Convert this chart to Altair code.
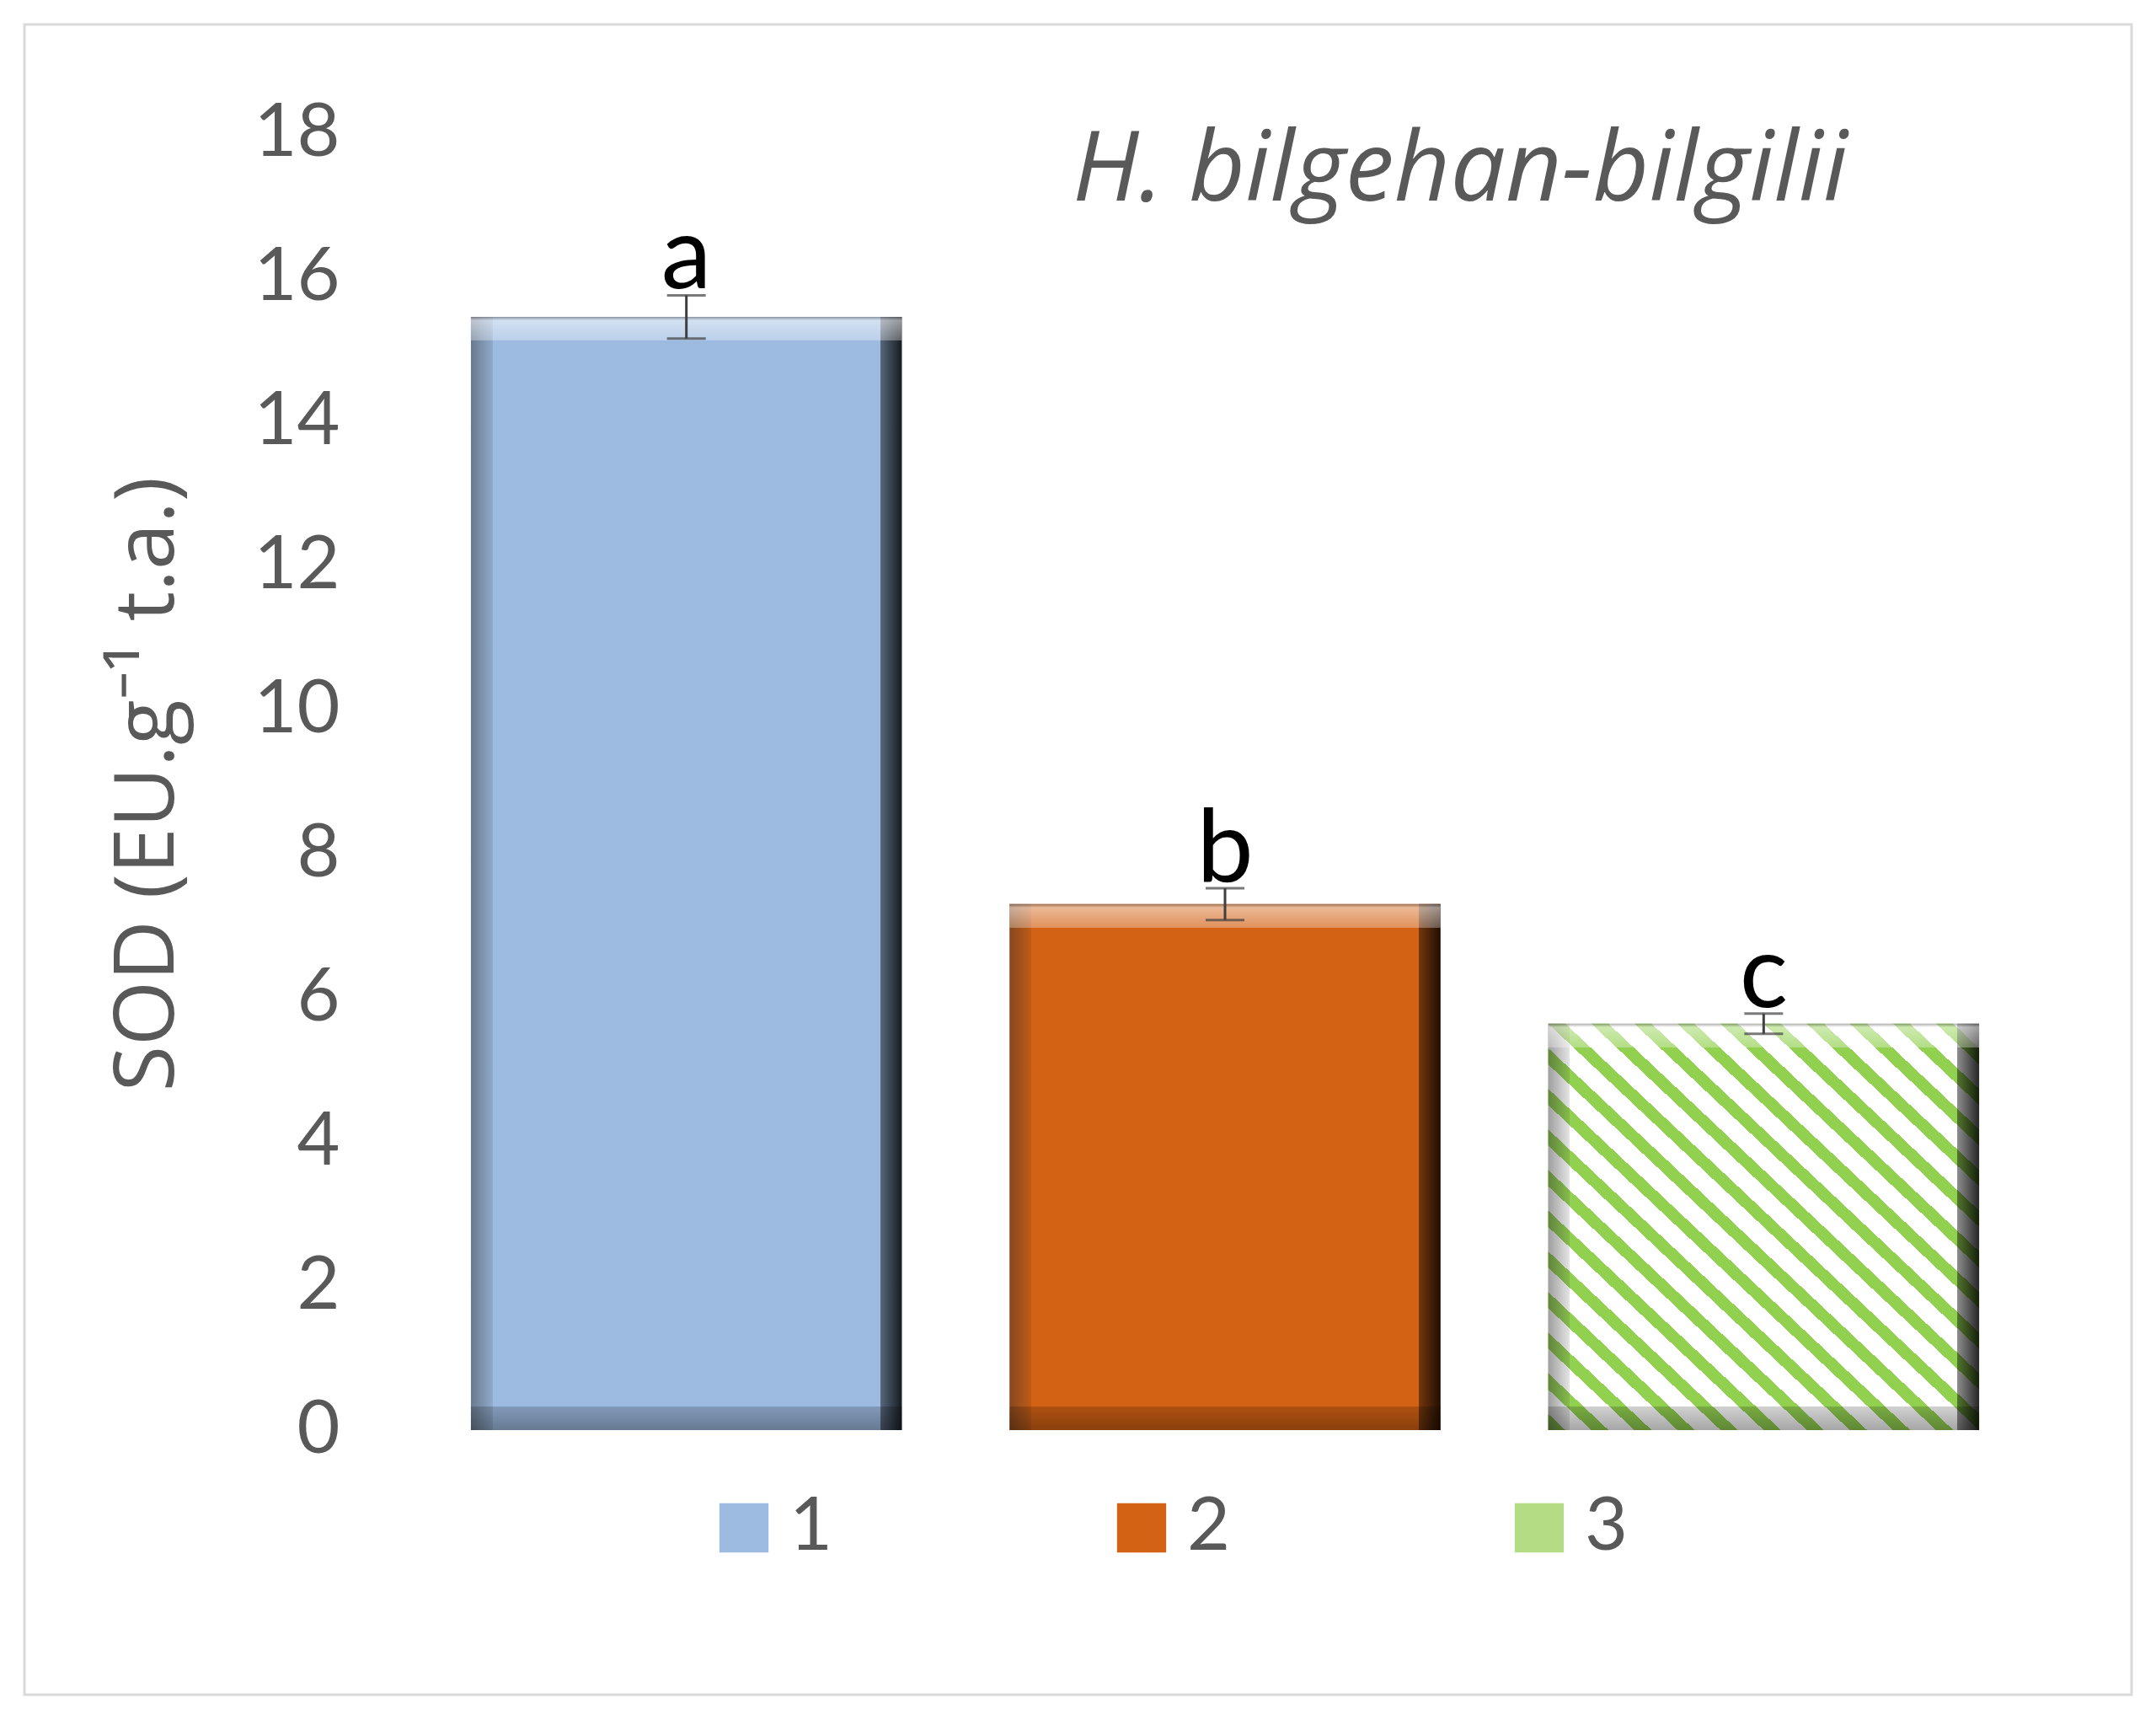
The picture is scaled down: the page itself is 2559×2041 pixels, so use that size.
import altair as alt
import pandas as pd

# ---- data ----
groups = ["1", "2", "3"]
means = [15.45, 7.30, 5.64]
errors = [0.30, 0.22, 0.14]
letters = ["a", "b", "c"]
y_ticks = [0, 2, 4, 6, 8, 10, 12, 14, 16, 18]
title_text = "H. bilgehan-bilgilii"
y_title = "SOD (EU.g⁻¹ t.a.)"

df = pd.DataFrame({"group": groups, "mean": means, "err": errors, "letter": letters})
df["lo"] = df["mean"] - df["err"]
df["hi"] = df["mean"] + df["err"]

# ---- layout / style ----
W, H = 1918, 1539
FONT = "Lato"
GRAY = "#595959"
YMAX = 18

x_enc = alt.X("group:N", scale=alt.Scale(domain=groups, paddingInner=0.2, paddingOuter=0.1), axis=None)
y_scale = alt.Scale(domain=[0, YMAX], nice=False)
y_axis = alt.Axis(
    values=y_ticks, grid=False, domain=False, ticks=False, tickSize=0,
    labelFont=FONT, labelFontSize=88, labelColor=GRAY, labelPadding=92,
    title=y_title, titleFont="Open Sans", titleFontSize=99, titleFontWeight="normal",
    titleColor=GRAY, titleX=-290, titleY=772, titleBaseline="alphabetic",
    titleAlign="center", titleAngle=270,
)


def Y(field):
    return alt.Y(field, type="quantitative", scale=y_scale, axis=y_axis)


def stops(pairs):
    return [{"offset": o, "color": c} for o, c in pairs]


base = alt.Chart(df).mark_bar().encode(
    x=x_enc,
    y=Y("mean"),
    color=alt.Color(
        "group:N",
        scale=alt.Scale(domain=groups, range=["#9DBBE1", "#D46215", "#B4DC84"]),
        legend=alt.Legend(
            title=None, orient="none", legendX=344, legendY=1611,
            direction="horizontal", symbolType="square", symbolSize=3400,
            symbolStrokeWidth=0, labelFont=FONT, labelFontSize=88,
            labelColor=GRAY, labelOffset=10, columnPadding=322, padding=0,
        ),
    ),
)

# diagonal stripes for bar 3
N = 20
stripe_pairs = []
for i in range(N):
    a = i / N
    b = (i + 0.4) / N
    c = (i + 1) / N
    stripe_pairs += [(a, "#92D050"), (b, "#92D050"), (b, "#FFFFFF"), (c, "#FFFFFF")]
stripe_grad = {"gradient": "linear", "x1": 0, "y1": 1, "x2": 1, "y2": 0, "stops": stops(stripe_pairs)}

stripes = alt.Chart(df).transform_filter(alt.datum.group == "3").mark_bar(color=stripe_grad).encode(
    x=x_enc, y=Y("mean")
)

e = 0.05
h_grad = {
    "gradient": "linear", "x1": 0, "y1": 0, "x2": 1, "y2": 0,
    "stops": stops([
        (0, "rgba(40,40,40,0.45)"), (e, "rgba(40,40,40,0.12)"), (e, "rgba(0,0,0,0)"),
        (1 - e, "rgba(0,0,0,0)"), (1 - e, "rgba(0,0,0,0.45)"), (1, "rgba(0,0,0,0.85)"),
    ]),
}
h_over = alt.Chart(df).mark_bar(color=h_grad).encode(x=x_enc, y=Y("mean"))

v_layers = []
for g, m in zip(groups, means):
    t = 28 / (m / YMAX * H)
    v_grad = {
        "gradient": "linear", "x1": 0, "y1": 0, "x2": 0, "y2": 1,
        "stops": stops([
            (0, "rgba(120,120,120,0.6)"), (0.15 * t, "rgba(255,255,255,0.55)"),
            (t, "rgba(255,255,255,0.3)"), (t, "rgba(0,0,0,0)"),
            (1 - t, "rgba(0,0,0,0)"), (1 - t, "rgba(0,0,0,0.18)"), (1, "rgba(0,0,0,0.35)"),
        ]),
    }
    v_layers.append(
        alt.Chart(df).transform_filter(alt.datum.group == g).mark_bar(color=v_grad).encode(
            x=x_enc, y=Y("mean")
        )
    )

err_rule = alt.Chart(df).mark_rule(color="#404040", strokeWidth=3).encode(
    x=x_enc, y=Y("lo"), y2="hi"
)
cap_lo = alt.Chart(df).mark_tick(color="#404040", size=46, thickness=3).encode(x=x_enc, y=Y("lo"))
cap_hi = alt.Chart(df).mark_tick(color="#404040", size=46, thickness=3).encode(x=x_enc, y=Y("hi"))

letter_txt = alt.Chart(df).mark_text(
    font=FONT, fontSize=120, color="#000000", baseline="alphabetic", dy=-8
).encode(x=x_enc, y=Y("hi"), text="letter:N")

title_mark = alt.Chart(pd.DataFrame({"t": [title_text]})).mark_text(
    font="Open Sans", fontStyle="italic", fontSize=116, color=GRAY, align="center", baseline="alphabetic"
).encode(x=alt.value(1238), y=alt.value(80), text="t:N")

border = alt.Chart(pd.DataFrame({"b": [0]})).mark_rect(
    fillOpacity=0, stroke="#D9D9D9", strokeWidth=3
).encode(x=alt.value(-466), x2=alt.value(2035), y=alt.value(-129), y2=alt.value(1853))

chart = alt.layer(
    border, base, stripes, h_over, *v_layers, err_rule, cap_lo, cap_hi, letter_txt, title_mark
).properties(
    width=W, height=H,
    padding={"left": 487, "top": 150, "right": 120, "bottom": 320},
    autosize=alt.AutoSizeParams(type="none"),
    background="#FFFFFF",
).configure_view(stroke=None)

chart.save("out.html", embed_options={"renderer": "svg", "actions": False})
